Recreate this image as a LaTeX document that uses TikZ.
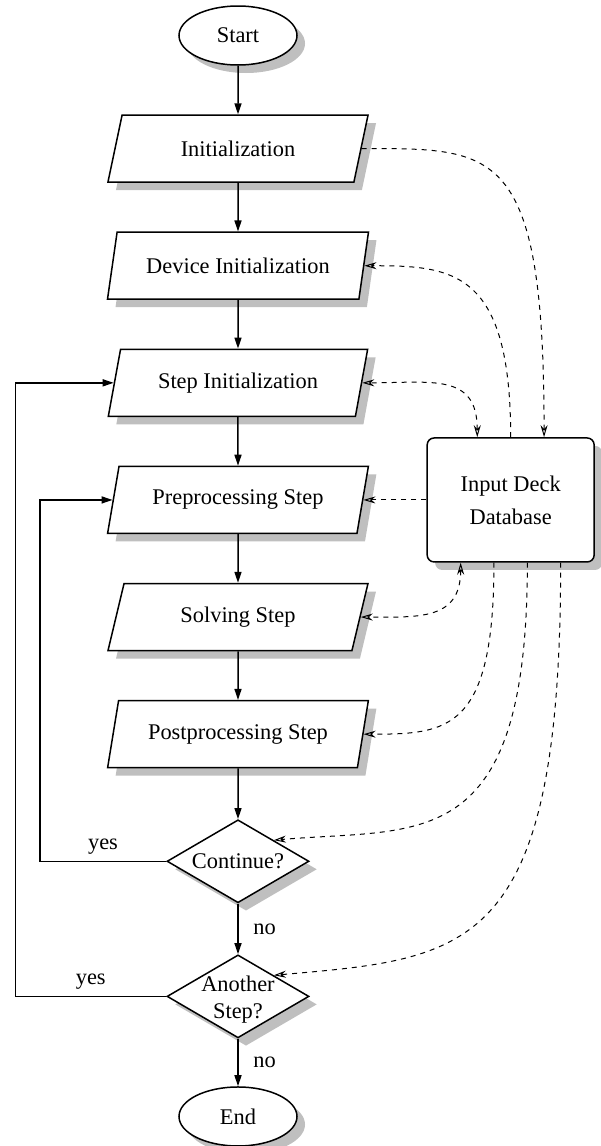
\documentclass[tikz,border=0pt]{standalone}
\usepackage{fontspec}
\setmainfont{Liberation Serif}
\usepackage{tikz}
\usetikzlibrary{shapes.geometric,shadows,positioning,arrows.meta}

\begin{document}
\begin{tikzpicture}[
    font=\fontsize{11.2pt}{13.4pt}\selectfont,
    node distance=24.3pt,
    base/.style={draw, line width=0.75pt, fill=white, drop shadow={shadow xshift=4pt, shadow yshift=-4pt, fill=black!25, opacity=1}},
    terminal/.style={base, ellipse, minimum width=59pt, minimum height=29.5pt, inner sep=0pt},
    io box/.style={base, trapezium, trapezium left angle=75, trapezium right angle=105, trapezium stretches=true, minimum width=130.5pt, minimum height=33.5pt},
    decision/.style={base, diamond, aspect=1.71, minimum width=71pt, minimum height=41.5pt, inner sep=0pt},
    database/.style={base, rounded corners=3.5pt, minimum width=83.5pt, minimum height=62pt, align=center, font=\fontsize{11.2pt}{16.5pt}\selectfont},
    arrow/.style={-{Triangle[length=5.5pt,width=3.5pt]}, line width=0.75pt},
    dataflow/.style={-{Stealth[open,length=6pt,width=3.5pt]}, line width=0.5pt, dash pattern=on 2.5pt off 2.5pt},
    two way/.style={{Stealth[open,length=6pt,width=3.5pt]}-{Stealth[open,length=6pt,width=3.5pt]}}
]
\useasboundingbox (0,0) rectangle (300pt,-573pt);

% main flow
\node[terminal] (start) at (119pt,-17.75pt) {Start};
\node[io box, below=of start] (init) {Initialization};
\node[io box, below=of init] (dev) {Device Initialization};
\node[io box, below=of dev] (step) {Step Initialization};
\node[io box, below=of step] (prep) {Preprocessing Step};
\node[io box, below=of prep] (solve) {Solving Step};
\node[io box, below=of solve] (post) {Postprocessing Step};
\node[decision, below=25.3pt of post] (cont) {Continue?};
\node[decision, below=25.3pt of cont, label={[align=center, yshift=-1.5pt]center:Another\\Step?}] (another) {};
\node[terminal, below=23.8pt of another] (end) {End};

% input deck
\node[database, right=31.5pt of prep] (db) {Input Deck\\Database};

\draw[arrow] (start) -- (init);
\draw[arrow] (init) -- (dev);
\draw[arrow] (dev) -- (step);
\draw[arrow] (step) -- (prep);
\draw[arrow] (prep) -- (solve);
\draw[arrow] (solve) -- (post);
\draw[arrow] (post) -- (cont);
\draw[arrow] (cont.south) -- node[right=4pt] {no} (another.north);
\draw[arrow] (another.south) -- node[right=4pt] {no} (end);

% loops back
\draw[arrow] (cont.west) -- node[above] {yes} ++(-63.25pt,0) |- (prep.west);
\draw[arrow] (another.west) -- node[above] {yes} ++(-75.5pt,0) |- (step.west);

% data links
\draw[dataflow] (init.east) to[out=0, in=90, out looseness=1, in looseness=2.2] ([xshift=16.7pt]db.north);
\draw[dataflow] (db.north) to[out=90, in=0, out looseness=1.9, in looseness=1] (dev.east);
\draw[dataflow, two way] ([xshift=-16.7pt]db.north) to[out=90, in=0, out looseness=1.3, in looseness=1.4] (step.east);
\draw[dataflow] (db.west) -- (prep.east);
\draw[dataflow, two way] ([xshift=-25pt]db.south) to[out=-90, in=0, out looseness=1.3, in looseness=1.3] (solve.east);
\draw[dataflow] ([xshift=-8.35pt]db.south) to[out=-90, in=0, out looseness=2, in looseness=1] (post.east);
\draw[dataflow] ([xshift=8.35pt]db.south) to[out=-90, in=5, out looseness=2, in looseness=1] (cont.north east);
\draw[dataflow] ([xshift=25pt]db.south) to[out=-90, in=5, out looseness=2, in looseness=1] (another.north east);

\end{tikzpicture}
\end{document}
